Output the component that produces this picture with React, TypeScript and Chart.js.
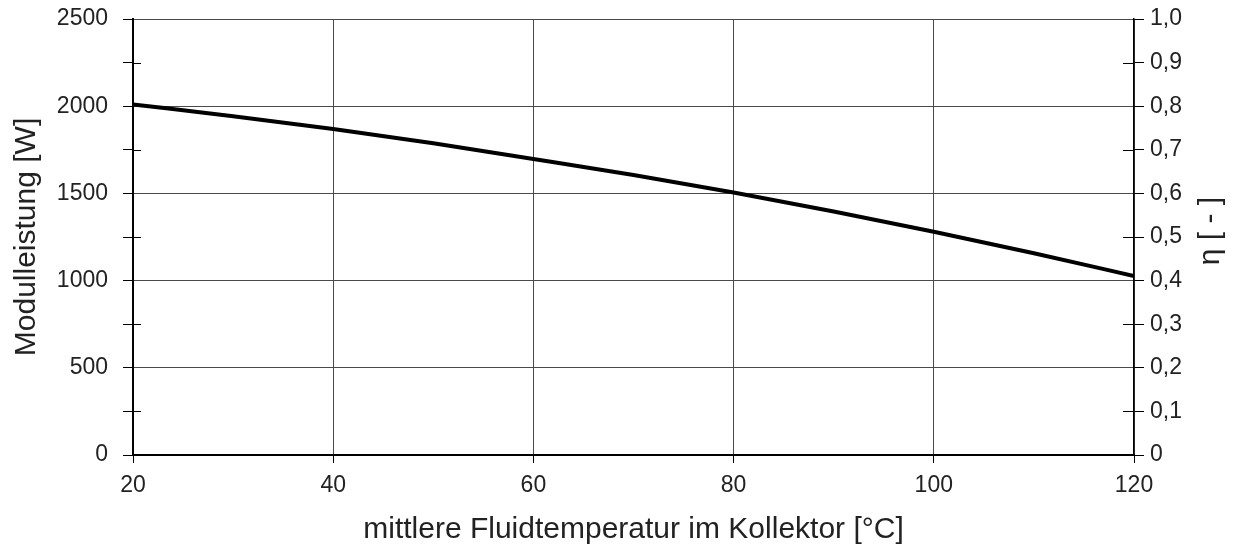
import React, { useEffect, useRef } from "react";
import { Chart, registerables } from "chart.js";

Chart.register(...registerables);

const temperatures = [20, 30, 40, 50, 60, 70, 80, 90, 100, 110, 120];
const power = [2010, 1943, 1869, 1787, 1697, 1605, 1505, 1396, 1280, 1157, 1026];
const xTitle = "mittlere Fluidtemperatur im Kollektor [°C]";
const yTitle = "Modulleistung [W]";
const y2Title = "η [ - ]";

const FONT = "'Liberation Sans', Arial, Helvetica, sans-serif";

const innerTicks = {
  id: "innerTicks",
  afterDraw(chart: any) {
    const ctx = chart.ctx;
    const area = chart.chartArea;
    const y = chart.scales.y;
    const y2 = chart.scales.y2;
    ctx.save();
    ctx.strokeStyle = "#000";
    ctx.lineWidth = 1;
    ctx.beginPath();
    y.ticks.forEach((t: any) => {
      if (t.value % 500 !== 0) {
        const py = Math.round(y.getPixelForValue(t.value)) + 0.5;
        ctx.moveTo(area.left, py);
        ctx.lineTo(area.left + 8, py);
      }
    });
    y2.ticks.forEach((t: any) => {
      const k = Math.round(t.value * 10);
      if (k % 2 === 1) {
        const py = Math.round(y2.getPixelForValue(t.value)) + 0.5;
        ctx.moveTo(area.right, py);
        ctx.lineTo(area.right - 11, py);
      }
    });
    ctx.stroke();
    // right axis title, reading bottom to top
    ctx.fillStyle = "#222";
    ctx.font = `30px ${FONT}`;
    ctx.textAlign = "center";
    ctx.textBaseline = "middle";
    ctx.translate(1211, (area.top + area.bottom) / 2 - 6);
    ctx.rotate(-Math.PI / 2);
    ctx.fillText(y2Title, 0, 0);
    ctx.restore();
  },
};

export default function App() {
  const ref = useRef<HTMLCanvasElement | null>(null);
  useEffect(() => {
    document.body.style.margin = "0";
    if (!ref.current) return;
    const chart = new Chart(ref.current, {
      type: "line",
      data: {
        datasets: [
          {
            data: temperatures.map((t, i) => ({ x: t, y: power[i] })),
            borderColor: "#000",
            borderWidth: 4,
            pointRadius: 0,
            cubicInterpolationMode: "monotone",
            yAxisID: "y",
          },
        ],
      },
      options: {
        responsive: true,
        maintainAspectRatio: false,
        animation: false,
        layout: { padding: { top: 19, left: 0, right: 0, bottom: 0 } },
        plugins: { legend: { display: false }, tooltip: { enabled: false } },
        scales: {
          x: {
            type: "linear",
            min: 20,
            max: 120,
            afterFit: (s: any) => {
              s.height = 95;
              s.paddingLeft = 0;
              s.paddingRight = 0;
            },
            ticks: {
              stepSize: 20,
              color: "#222",
              font: { family: FONT, size: 23 },
              padding: 9,
            },
            grid: { color: "#4a4a4a", lineWidth: 1, tickLength: 8, tickColor: "#000" },
            border: { color: "#000", width: 2 },
            title: {
              display: true,
              text: xTitle,
              color: "#222",
              font: { family: FONT, size: 30 },
              padding: { top: 0, bottom: 2 },
            },
          },
          y: {
            position: "left",
            min: 0,
            max: 2500,
            afterFit: (s: any) => {
              s.width = 133;
              s.paddingTop = 0;
              s.paddingBottom = 0;
            },
            ticks: {
              stepSize: 250,
              autoSkip: false,
              color: "#222",
              font: { family: FONT, size: 23 },
              padding: 15,
              callback: (v: any) => (Number(v) % 500 === 0 ? String(v) : ""),
            },
            grid: {
              color: (c: any) => (c.tick && c.tick.value % 500 === 0 ? "#4a4a4a" : "rgba(0,0,0,0)"),
              tickColor: "#000",
              tickLength: 10,
              lineWidth: 1,
            },
            border: { color: "#000", width: 2 },
            title: {
              display: true,
              text: yTitle,
              color: "#222",
              font: { family: FONT, size: 30 },
              padding: { top: 9, bottom: 0 },
            },
          },
          y2: {
            position: "right",
            min: 0,
            max: 1,
            afterFit: (s: any) => {
              s.width = 104;
              s.paddingTop = 0;
              s.paddingBottom = 0;
            },
            ticks: {
              stepSize: 0.1,
              autoSkip: false,
              color: "#222",
              font: { family: FONT, size: 23 },
              padding: 6,
              callback: (v: any) => {
                const n = Number(v);
                return n === 0 ? "0" : n.toFixed(1).replace(".", ",");
              },
            },
            grid: { drawOnChartArea: false, tickColor: "#000", tickLength: 10 },
            border: { color: "#000", width: 1.5 },
          },
        },
      },
      plugins: [innerTicks],
    } as any);
    return () => chart.destroy();
  }, []);
  return (
    <div style={{ position: "fixed", left: 0, top: 0, width: 1238, height: 550, background: "#fff" }}>
      <canvas ref={ref} />
    </div>
  );
}
